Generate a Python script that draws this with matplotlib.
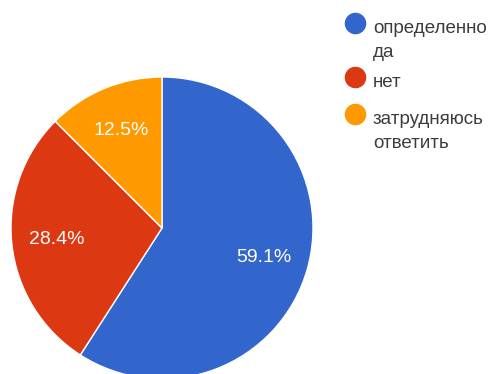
import matplotlib.pyplot as plt
from matplotlib.lines import Line2D

labels = ["определенно\nда", "нет", "затрудняюсь\nответить"]
shares = [59.1, 28.4, 12.5]
colors = ["#3366cc", "#dc3912", "#ff9900"]

W, H = 494, 374
plt.rcParams["font.family"] = ["Liberation Sans", "DejaVu Sans"]
fig = plt.figure(figsize=(W / 100, H / 100), dpi=100)

# pie centre at (162, 228) px, radius 151 px
cx, cy, r = 162, 228, 151
ax = fig.add_axes([(cx - r) / W, (H - cy - r) / H, 2 * r / W, 2 * r / H])
wedges, _, autotexts = ax.pie(
    shares, colors=colors, startangle=90, counterclock=False,
    autopct="%1.1f%%", pctdistance=0.7, radius=1,
    wedgeprops=dict(edgecolor="white", linewidth=1),
    textprops=dict(color="white", fontsize=14),
)
ax.set_xlim(-1, 1)
ax.set_ylim(-1, 1)
ax.set_aspect("equal")
ax.axis("off")

# legend on the right, drawn by hand so markers sit on the first line
baselines = [33, 87, 124]
line_gap = 24
for lab, col, yb in zip(labels, colors, baselines):
    fig.add_artist(Line2D([355 / W], [1 - (yb - 10) / H], marker="o", markersize=14.5,
                          color=col, linestyle="none", transform=fig.transFigure))
    for i, part in enumerate(lab.split("\n")):
        fig.text(373 / W, 1 - (yb + i * line_gap) / H, part, fontsize=13.5,
                 color="#3c3c3c", va="baseline", ha="left")

fig.savefig("out.png", dpi=100)
